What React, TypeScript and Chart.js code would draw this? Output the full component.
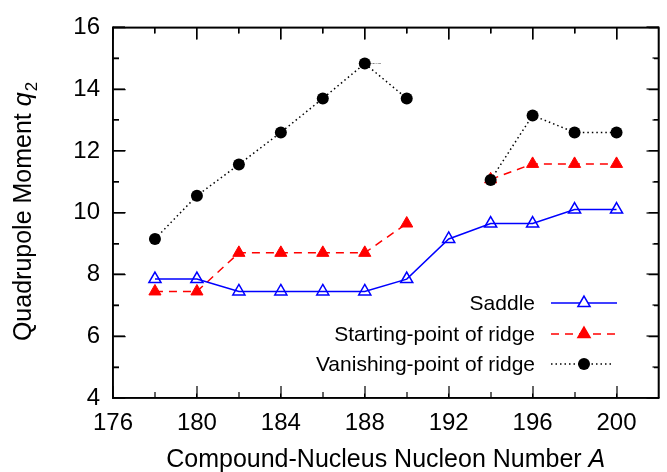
import React, { useEffect, useRef } from 'react';
import { Chart, registerables } from 'chart.js';

Chart.register(...registerables);

const nucleonNumbers = [178, 180, 182, 184, 186, 188, 190, 192, 194, 196, 198, 200];
const saddle = [7.85, 7.85, 7.45, 7.45, 7.45, 7.45, 7.85, 9.15, 9.65, 9.65, 10.1, 10.1];
const startingPoint = [7.45, 7.45, 8.7, 8.7, 8.7, 8.7, 9.65, null, 11.08, 11.58, 11.58, 11.58];
const vanishingPoint = [9.15, 10.55, 11.56, 12.6, 13.7, 14.83, 13.7, null, 11.06, 13.15, 12.6, 12.6];

const xRange = [176, 202];
const yRange = [4, 16];
const xTickLabels = [176, 180, 184, 188, 192, 196, 200];
const xMinorTicks = [178, 182, 186, 190, 194, 198];
const yTickLabels = [4, 6, 8, 10, 12, 14, 16];
const yMinorTicks = [5, 7, 9, 11, 13, 15];

const seriesNames = ['Saddle', 'Starting-point of ridge', 'Vanishing-point of ridge'];
const xTitleMain = 'Compound-Nucleus Nucleon Number ';
const xTitleVar = 'A';
const yTitleMain = 'Quadrupole Moment ';
const yTitleVar = 'q';
const yTitleSub = '2';

const FONT = "'Liberation Sans', Arial, Helvetica, sans-serif";
const BLUE = '#0000ff';
const RED = '#ff0000';
const BLACK = '#000000';

const PLOT_H = 378;
const PLOT_W = 547;

const toPoints = (vals: (number | null)[]) =>
  nucleonNumbers.map((x, i) => ({ x, y: vals[i] }));

function drawTriangle(ctx: CanvasRenderingContext2D, x: number, y: number, r: number, fill: string | null, stroke: string) {
  ctx.beginPath();
  let rad = 0;
  ctx.moveTo(x + Math.sin(rad) * r, y - Math.cos(rad) * r);
  rad += (2 * Math.PI) / 3;
  ctx.lineTo(x + Math.sin(rad) * r, y - Math.cos(rad) * r);
  rad += (2 * Math.PI) / 3;
  ctx.lineTo(x + Math.sin(rad) * r, y - Math.cos(rad) * r);
  ctx.closePath();
  if (fill) {
    ctx.fillStyle = fill;
    ctx.fill();
  }
  ctx.strokeStyle = stroke;
  ctx.stroke();
}

const tickScale = (axis: 'x' | 'y', position: string, range: number[], values: number[], dash: number[], width: number) => ({
  type: 'linear',
  axis,
  position,
  min: range[0],
  max: range[1],
  display: true,
  grid: { display: true, drawOnChartArea: true, drawTicks: false, tickLength: 0, color: BLACK, lineWidth: width },
  border: { display: false, dash },
  ticks: { display: false },
  title: { display: false },
  afterBuildTicks: (s: any) => {
    s.ticks = values.map((v) => ({ value: v }));
  },
  afterFit: (s: any) => {
    if (axis === 'x') s.height = 0;
    else s.width = 0;
  },
});

const decorPlugin = {
  id: 'decor',
  afterDraw(chart: any) {
    const ctx = chart.ctx;
    const xs = chart.scales.x;
    const ys = chart.scales.y;
    const L = xs.left;
    const R = xs.right;
    const T = ys.top;
    const B = ys.bottom;
    ctx.save();
    // primer drawn inside the top black marker (invisible)
    const px0 = xs.getPixelForValue(nucleonNumbers[5]);
    const py0 = ys.getPixelForValue(vanishingPoint[5] as number);
    ctx.fillStyle = BLACK;
    ctx.font = `2px ${FONT}`;
    ctx.textAlign = 'left';
    ctx.textBaseline = 'top';
    ctx.fillText(`${L} ${R} ${T} ${B}`, px0 - 1, py0 - 1);
    ctx.fillRect(Math.round(px0) - 1, Math.round(py0) - 1, 2, 2);

    // frame and inward ticks
    const tx = (v: number, len: number) => {
      const p = Math.round(xs.getPixelForValue(v));
      ctx.fillRect(p - 0.6, B - len, 1.2, len);
      ctx.fillRect(p - 0.6, T, 1.2, len);
    };
    const ty = (v: number, len: number) => {
      const p = Math.round(ys.getPixelForValue(v));
      ctx.fillRect(L, p - 0.6, len, 1.2);
      ctx.fillRect(R - len, p - 0.6, len, 1.2);
    };
    xTickLabels.forEach((v) => tx(v, 12));
    xMinorTicks.forEach((v) => tx(v, 6));
    yTickLabels.forEach((v) => ty(v, 12));
    yMinorTicks.forEach((v) => ty(v, 6));
    const bw = 1.6;
    ctx.fillRect(L - bw / 2, T - bw / 2, R - L + bw, bw);
    ctx.fillRect(L - bw / 2, B - bw / 2, R - L + bw, bw);
    ctx.fillRect(L - bw / 2, T - bw / 2, bw, B - T + bw);
    ctx.fillRect(R - bw / 2, T - bw / 2, bw, B - T + bw);

    // titles
    ctx.textAlign = 'left';
    ctx.textBaseline = 'alphabetic';
    const normal = `25px ${FONT}`;
    const italic = `italic 25px ${FONT}`;
    ctx.font = normal;
    const w1 = ctx.measureText(xTitleMain).width;
    ctx.font = italic;
    const w2 = ctx.measureText(xTitleVar).width;
    const cx = (L + R) / 2;
    const sx = cx - (w1 + w2) / 2;
    ctx.font = normal;
    ctx.fillText(xTitleMain, sx, 467);
    ctx.font = italic;
    ctx.fillText(xTitleVar, sx + w1, 467);

    ctx.save();
    ctx.translate(31, 212);
    ctx.rotate(-Math.PI / 2);
    ctx.font = normal;
    const y1 = ctx.measureText(yTitleMain).width;
    ctx.font = italic;
    const y2 = ctx.measureText(yTitleVar).width;
    const sub = `17px ${FONT}`;
    ctx.font = sub;
    const y3 = ctx.measureText(yTitleSub).width;
    const st = -(y1 + y2 + y3) / 2;
    ctx.font = normal;
    ctx.fillText(yTitleMain, st, 0);
    ctx.font = italic;
    ctx.fillText(yTitleVar, st + y1, 0);
    ctx.font = sub;
    ctx.fillText(yTitleSub, st + y1 + y2 + 1, 6);
    ctx.restore();

    // legend
    const rows = [303, 334, 364];
    const textRight = 535;
    const lineL = 551;
    const lineR = 617;
    const mid = 584;
    ctx.font = `21px ${FONT}`;
    ctx.textAlign = 'right';
    ctx.textBaseline = 'middle';
    ctx.fillStyle = BLACK;
    seriesNames.forEach((name, i) => {
      ctx.fillText(name, textRight, rows[i] + 1);
    });
    ctx.lineWidth = 1.5;
    ctx.strokeStyle = BLUE;
    ctx.setLineDash([]);
    ctx.beginPath();
    ctx.moveTo(lineL, rows[0]);
    ctx.lineTo(lineR, rows[0]);
    ctx.stroke();
    drawTriangle(ctx, mid, rows[0], 7, '#ffffff', BLUE);
    ctx.strokeStyle = RED;
    ctx.setLineDash([8, 6]);
    ctx.beginPath();
    ctx.moveTo(lineL, rows[1]);
    ctx.lineTo(lineR, rows[1]);
    ctx.stroke();
    ctx.setLineDash([]);
    drawTriangle(ctx, mid, rows[1], 7, RED, RED);
    ctx.strokeStyle = BLACK;
    ctx.setLineDash([1.5, 3]);
    ctx.beginPath();
    ctx.moveTo(lineL, rows[2]);
    ctx.lineTo(lineR - 4, rows[2]);
    ctx.stroke();
    ctx.setLineDash([]);
    ctx.beginPath();
    ctx.arc(mid, rows[2], 6, 0, Math.PI * 2);
    ctx.fillStyle = BLACK;
    ctx.fill();
    ctx.restore();
  },
};

export default function App() {
  const canvasRef = useRef<HTMLCanvasElement | null>(null);

  useEffect(() => {
    if (!canvasRef.current) return;
    const chart = new Chart(canvasRef.current, {
      type: 'line',
      data: {
        datasets: [
          {
            label: seriesNames[0],
            data: toPoints(saddle),
            borderColor: BLUE,
            backgroundColor: 'rgba(255,255,255,0)',
            borderWidth: 1.5,
            pointStyle: 'triangle',
            pointRadius: 7,
            pointBorderWidth: 1.5,
            pointBorderColor: BLUE,
            pointBackgroundColor: 'rgba(255,255,255,0)',
            spanGaps: false,
            tension: 0,
            order: 1,
          },
          {
            label: seriesNames[1],
            data: toPoints(startingPoint),
            borderColor: RED,
            backgroundColor: RED,
            borderWidth: 1.5,
            borderDash: [8, 6],
            pointStyle: 'triangle',
            pointRadius: 7,
            pointBorderWidth: 1,
            pointBorderColor: RED,
            pointBackgroundColor: RED,
            spanGaps: false,
            tension: 0,
            order: 2,
          },
          {
            label: seriesNames[2],
            data: toPoints(vanishingPoint),
            borderColor: BLACK,
            backgroundColor: BLACK,
            borderWidth: 1.5,
            borderDash: [1.5, 3],
            pointStyle: 'circle',
            pointRadius: 6,
            pointBorderWidth: 0,
            pointBackgroundColor: BLACK,
            spanGaps: false,
            tension: 0,
            order: 0,
          },
        ],
      },
      options: {
        animation: false,
        responsive: false,
        maintainAspectRatio: false,
        events: [],
        layout: { padding: { top: 12.6, right: 5.5, left: 0, bottom: 0 } },
        plugins: {
          legend: { display: false },
          tooltip: { enabled: false },
          title: { display: false },
        },
        scales: {
          x: {
            type: 'linear',
            position: 'bottom',
            min: xRange[0],
            max: xRange[1],
            grid: { display: true, drawOnChartArea: true, drawTicks: false, tickLength: 0, color: BLACK, lineWidth: 1.2 },
            border: { display: true, color: BLACK, width: 1.6, dash: [12, PLOT_H - 24, 12, 3000] },
            ticks: {
              color: BLACK,
              font: { family: FONT, size: 24 },
              padding: 11,
              maxRotation: 0,
              autoSkip: false,
            },
            afterBuildTicks: (s: any) => {
              s.ticks = xTickLabels.map((v) => ({ value: v }));
            },
            afterFit: (s: any) => {
              s.height = 74;
            },
          },
          y: {
            type: 'linear',
            position: 'left',
            min: yRange[0],
            max: yRange[1],
            grid: { display: true, drawOnChartArea: true, drawTicks: false, tickLength: 0, color: BLACK, lineWidth: 1.2 },
            border: { display: true, color: BLACK, width: 1.6, dash: [12, PLOT_W - 24, 12, 3000] },
            ticks: {
              color: BLACK,
              font: { family: FONT, size: 24 },
              padding: 13,
              autoSkip: false,
            },
            afterBuildTicks: (s: any) => {
              s.ticks = yTickLabels.map((v) => ({ value: v }));
            },
            afterFit: (s: any) => {
              s.width = 113;
            },
          },
          xMinor: tickScale('x', 'bottom', xRange, xMinorTicks, [6, PLOT_H - 12, 6, 3000], 1.2),
          yMinor: tickScale('y', 'left', yRange, yMinorTicks, [6, PLOT_W - 12, 6, 3000], 1.2),
          xEdge: tickScale('x', 'bottom', xRange, [xRange[1]], [], 1.6),
          yEdge: tickScale('y', 'left', yRange, [yRange[1]], [], 1.6),
        },
      },
      plugins: [decorPlugin],
    } as any);
    return () => chart.destroy();
  }, []);

  return (
    <div style={{ position: 'fixed', left: 0, top: 0, width: 667, height: 472, background: '#fff' }}>
      <canvas ref={canvasRef} width={667} height={472} style={{ display: 'block' }} />
    </div>
  );
}
